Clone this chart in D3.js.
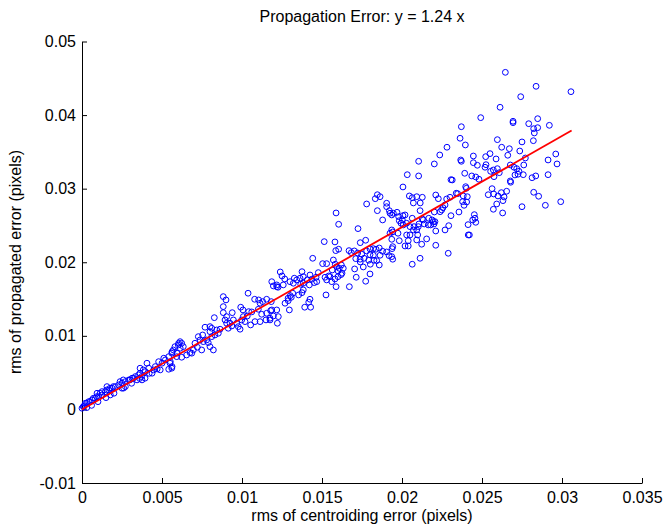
<!DOCTYPE html>
<html>
<head>
<meta charset="utf-8">
<script src="https://cdn.jsdelivr.net/npm/d3@7"></script>
<style>
  body { margin: 0; background: #fff; }
  text { font-family: 'Liberation Sans', Arial, Helvetica, sans-serif; fill: #000; }
</style>
</head>
<body>
<script>
const width = 664;
const height = 526;

// values in units of 1e-3 pixels
const xMilli = [
  26.46,28.38,30.56,27.42,26.13,24.92,26.94,26.94,27.92,28.48,28.23,28.48,28.27,29.21,23.71,23.63,23.96,25.96,27.5,28.21,
  22.81,26.23,26.71,27.36,26.61,22.36,21.04,22.02,23.67,23.71,24.46,24.46,25.23,25.5,25.88,24.71,25.25,27.71,29.13,29.61,
  29.69,20.33,21.04,23.06,23.14,23.92,24.36,24.61,24.81,25.19,25.54,25.71,25.96,26.08,25.75,26.77,26.79,27.0,27.17,27.31,
  27.58,27.06,28.13,28.36,29.13,20.06,20.46,20.64,20.92,21.27,20.71,21.14,22.11,22.27,22.79,23.0,23.39,23.48,23.83,24.08,
  23.98,24.02,23.79,23.88,24.04,22.69,22.56,21.13,22.02,25.39,25.73,26.0,26.21,26.38,26.54,26.31,25.92,25.71,26.29,25.63,
  28.23,28.54,27.5,28.96,29.92,23.56,23.06,24.52,24.61,24.13,22.92,19.04,19.04,19.21,19.46,19.69,19.36,19.79,20.06,20.02,
  19.94,18.79,20.64,21.27,21.67,21.88,21.96,21.06,21.39,21.79,22.0,20.75,20.5,18.63,27.61,26.77,27.25,19.25,20.19,19.83,
  20.08,20.29,21.33,21.64,22.06,22.38,22.48,24.56,24.42,24.14,24.21,22.69,22.11,21.02,20.92,20.98,20.92,20.71,20.5,20.29,
  20.39,20.19,20.39,19.83,19.36,19.42,21.23,21.54,22.11,22.89,21.13,20.64,19.36,19.42,19.25,19.36,18.46,18.33,17.79,18.46,
  15.88,16.04,17.25,19.42,19.75,15.14,15.81,15.86,16.04,17.39,17.73,19.38,16.69,16.83,17.02,17.23,17.48,17.79,18.0,18.21,
  18.38,18.58,18.79,19.04,19.19,18.21,18.0,18.63,18.42,18.25,18.02,18.58,17.92,17.63,17.38,17.39,17.11,17.04,17.58,18.0,
  17.14,16.71,17.73,14.42,15.04,15.29,15.71,15.83,15.92,16.08,16.21,16.33,16.0,16.19,16.0,15.64,15.42,15.5,15.19,15.29,
  15.61,15.81,16.25,15.88,15.25,14.77,14.63,14.25,14.36,14.08,13.75,13.83,13.63,13.42,13.27,13.21,13.0,12.67,12.39,12.5,
  12.58,14.52,14.67,14.21,13.83,13.67,13.83,13.75,13.54,13.17,13.08,12.88,13.02,12.89,12.96,12.69,12.17,12.17,11.96,11.86,
  12.25,14.25,14.17,13.92,14.29,12.17,12.27,11.75,12.21,11.86,10.38,9.0,8.83,8.27,10.79,11.04,11.13,11.29,11.54,11.83,
  9.92,10.06,10.42,10.61,11.02,11.23,11.54,11.79,11.75,11.5,11.13,10.81,10.54,11.96,9.39,8.83,8.94,9.46,10.08,10.33,
  9.98,9.67,9.25,9.36,9.04,9.14,8.63,9.77,9.88,10.19,8.0,7.69,7.54,8.0,8.11,8.42,8.52,8.31,8.11,7.79,
  7.89,8.0,8.21,7.58,7.38,7.27,7.06,7.21,7.48,6.96,6.86,6.54,6.33,6.23,6.13,6.02,5.81,5.71,5.61,5.92,
  6.23,6.75,5.5,5.61,3.63,3.63,3.73,3.83,3.94,3.21,3.0,2.58,2.38,1.96,1.75,1.54,1.13,0.92,0.71,0.5,
  0.29,0.08,6.04,6.14,5.63,5.94,5.42,5.21,5.52,5.0,4.79,4.58,4.48,4.89,5.42,4.17,3.96,3.54,3.33,3.13,
  3.44,2.92,2.71,2.5,2.29,2.08,1.88,1.67,1.46,1.25,1.04,0.83,0.63,0.42,0.21,0.11,0.0,3.75,2.5,2.71,
  4.38,4.06,5.11,5.63,1.77,1.56,1.25,0.94,8.83,9.04,0.6,1.0,1.5,2.0,2.6,3.1,3.6,4.2,4.7,0.3,
  0.15
];
const yMilli = [
  45.81,43.91,43.18,42.50,41.06,39.65,39.16,38.97,38.83,39.51,38.15,38.29,37.57,38.61,38.42,36.85,35.94,36.66,36.35,36.52,
  35.63,35.63,35.43,35.12,34.54,34.58,33.72,33.36,33.90,33.72,34.44,33.53,34.35,34.76,34.04,33.18,33.26,34.17,33.90,34.71,
  33.36,31.90,31.73,31.22,31.18,32.09,31.73,31.59,31.28,32.91,32.36,32.54,32.72,32.17,31.63,31.05,30.87,32.91,32.72,32.36,
  31.90,31.86,31.49,31.73,31.90,30.23,29.01,28.78,28.91,28.83,28.06,28.06,29.14,28.64,28.60,28.83,29.38,29.32,29.01,28.91,
  30.27,30.05,28.23,27.74,28.19,27.79,27.42,27.01,26.83,29.18,29.28,29.01,29.46,28.87,29.65,28.37,27.92,27.20,26.70,30.00,
  29.51,28.97,27.55,27.74,28.23,26.83,26.33,26.47,25.43,25.11,24.97,28.02,27.55,27.01,26.66,26.79,26.43,26.20,26.33,25.75,
  25.30,25.75,25.98,25.88,25.98,25.75,25.52,25.20,25.20,25.07,25.20,24.84,24.84,28.91,33.22,33.22,31.96,26.66,26.43,25.65,
  25.07,25.30,25.75,25.07,25.52,26.87,27.11,25.98,25.75,23.71,23.71,24.39,24.25,24.84,24.39,23.71,23.03,24.39,23.71,23.71,
  22.93,22.21,22.21,22.93,23.12,22.12,22.45,23.17,22.31,21.22,20.54,19.73,20.76,20.41,23.94,24.39,29.18,28.64,27.92,27.01,
  26.70,25.16,24.57,24.12,23.94,22.80,22.76,21.58,21.77,22.66,22.99,21.85,21.58,21.30,21.54,21.26,21.09,21.54,21.81,21.85,
  21.77,21.94,21.49,21.40,20.90,20.95,21.03,20.95,20.22,20.27,19.73,19.63,20.27,20.54,20.41,20.04,20.49,19.09,19.36,18.41,
  17.96,16.68,17.42,20.54,19.81,19.81,20.31,19.73,19.40,19.18,19.63,19.18,18.82,18.32,18.04,18.95,18.14,18.04,17.96,17.60,
  17.36,17.73,18.51,16.68,15.56,18.59,17.96,18.27,17.69,17.60,18.72,18.04,17.83,17.60,17.83,17.15,17.36,17.73,18.68,18.14,
  16.92,17.23,17.36,16.92,17.15,17.01,16.24,15.87,15.56,15.79,15.24,15.11,15.46,14.78,13.52,14.43,16.92,16.68,16.78,17.36,
  16.60,14.97,14.57,13.89,13.89,13.52,12.61,12.39,11.71,13.52,15.79,14.88,13.97,12.47,14.97,14.88,14.43,14.65,14.97,14.65,
  13.89,13.52,13.29,13.25,13.61,12.93,13.07,13.42,12.16,12.16,11.93,11.93,11.48,12.70,13.15,13.15,12.16,12.16,12.61,12.70,
  12.16,11.71,11.71,11.34,11.71,11.03,10.90,11.25,10.90,11.93,11.25,11.17,10.12,10.57,11.03,10.80,10.35,10.12,9.89,9.44,
  9.08,8.53,8.08,9.21,9.44,9.89,8.99,8.45,8.08,8.08,7.64,7.40,8.53,8.99,9.21,8.76,8.53,8.08,7.64,7.17,
  7.09,7.72,6.28,5.60,5.60,4.92,4.46,5.37,4.24,4.24,4.01,4.01,3.78,3.10,2.88,2.65,2.20,1.74,1.52,1.06,
  0.84,0.38,8.99,8.32,7.85,7.64,7.17,6.73,6.49,6.28,6.49,5.82,5.37,5.37,5.46,5.60,5.14,4.69,4.46,4.24,
  4.01,4.01,3.78,3.56,3.33,3.10,2.88,2.65,2.42,1.97,1.74,1.52,1.29,1.06,0.84,0.38,0.16,4.01,2.88,3.10,
  4.92,6.28,6.96,5.82,1.97,3.10,2.42,2.20,15.33,12.61,0.55,1.05,1.6,2.2,2.9,3.55,4.2,4.9,5.5,0.25,
  0.5
];

// fitted line y = 1.24 x
const fitX = [0, 0.0306];
const fitY = [0, 0.0379];

const xTicks = [0, 0.005, 0.01, 0.015, 0.02, 0.025, 0.03, 0.035];
const yTicks = [-0.01, 0, 0.01, 0.02, 0.03, 0.04, 0.05];

const titleText = 'Propagation Error: y = 1.24 x';
const xLabelText = 'rms of centroiding error (pixels)';
const yLabelText = 'rms of propagated error (pixels)';

const points = xMilli.map((x, i) => ({x: x / 1000, y: yMilli[i] / 1000}));

const svg = d3.select('body')
              .append('svg')
              .attr('width', width)
              .attr('height', height);

const x = d3.scaleLinear().domain([0, 0.035]).range([82, 642]);
const y = d3.scaleLinear().domain([-0.01, 0.05]).range([483, 41.5]);

const fmt = d => String(+d.toFixed(3));

// axes with inward ticks (matlab style)
const xAxis = svg.append('g')
  .attr('transform', 'translate(0,483)')
  .call(d3.axisBottom(x).tickValues(xTicks).tickFormat(fmt).tickSizeInner(-5).tickSizeOuter(0).tickPadding(9));

const yAxis = svg.append('g')
  .attr('transform', 'translate(82,0)')
  .call(d3.axisLeft(y).tickValues(yTicks).tickFormat(fmt).tickSizeInner(-5).tickSizeOuter(0).tickPadding(6));

svg.selectAll('.tick text').attr('font-size', 16).attr('font-family', "'Liberation Sans', Arial, sans-serif");
svg.selectAll('.domain, .tick line').attr('stroke', '#000').attr('stroke-width', 1);

// markers
svg.append('g')
  .selectAll('circle')
  .data(points)
  .enter()
  .append('circle')
    .attr('cx', d => x(d.x))
    .attr('cy', d => y(d.y))
    .attr('r', 2.9)
    .attr('fill', 'none')
    .attr('stroke', '#0000ff')
    .attr('stroke-width', 1);

// fit line
svg.append('path')
  .datum(fitX.map((v, i) => [v, fitY[i]]))
  .attr('d', d3.line().x(d => x(d[0])).y(d => y(d[1])))
  .attr('fill', 'none')
  .attr('stroke', '#ff0000')
  .attr('stroke-width', 1.8);

svg.append('text')
  .text(titleText)
  .attr('x', 362)
  .attr('y', 22)
  .attr('text-anchor', 'middle')
  .attr('font-size', 16);

svg.append('text')
  .text(xLabelText)
  .attr('x', 362)
  .attr('y', 521)
  .attr('text-anchor', 'middle')
  .attr('font-size', 16);

svg.append('text')
  .text(yLabelText)
  .attr('transform', 'translate(21,262) rotate(-90)')
  .attr('text-anchor', 'middle')
  .attr('font-size', 16);
</script>
</body>
</html>
